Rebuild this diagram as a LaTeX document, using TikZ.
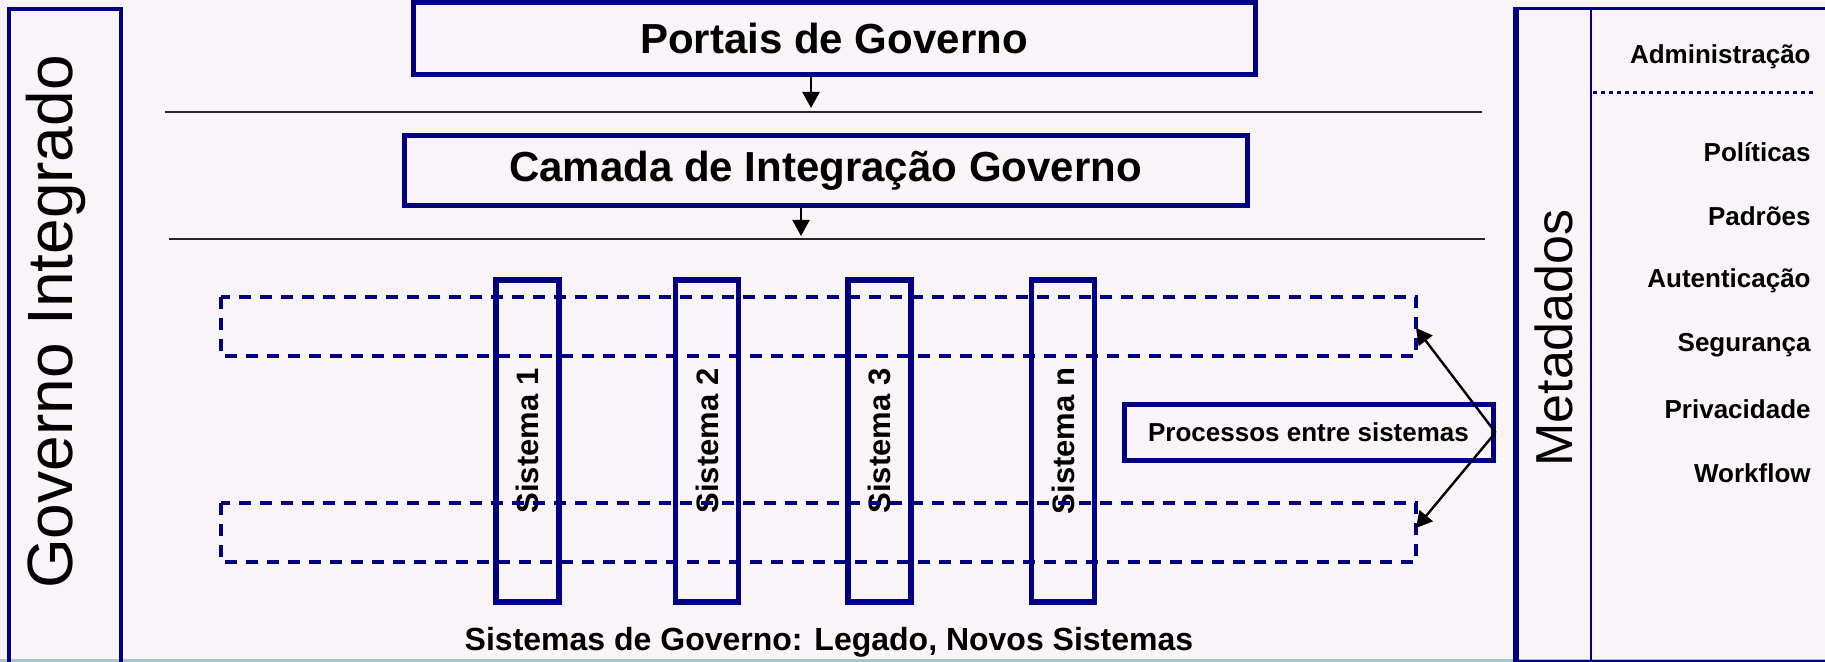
\documentclass[tikz,border=0pt]{standalone}
\usepackage{fontspec}
\setmainfont{Liberation Sans}
\usetikzlibrary{arrows.meta}
\definecolor{navy}{RGB}{0,0,128}
\definecolor{bgc}{RGB}{248,244,248}
\definecolor{tealstrip}{RGB}{160,200,205}
\begin{document}
\begin{tikzpicture}[x=0.5pt,y=-0.5pt,
  bigbox/.style={draw=navy,line width=2.5pt,inner sep=0pt,font=\fontsize{21}{25}\selectfont\bfseries},
  sysbox/.style={draw=navy,line width=2.75pt,inner sep=0pt,minimum width=31.5pt,minimum height=161pt},
  systext/.style={rotate=90,font=\fontsize{15.5}{18}\selectfont\bfseries,inner sep=0pt},
  dashrect/.style={draw=navy,line width=1.75pt,dash pattern=on 6pt off 4.5pt},
  sepline/.style={draw=black!85,line width=1pt},
  arr/.style={draw=black,line width=1.2pt,-{Triangle[length=8pt,width=8.5pt]}},
  meta/.style={anchor=east,inner sep=0pt,font=\fontsize{13}{15}\selectfont\bfseries}]
\useasboundingbox[fill=bgc] (0,0) rectangle (1825,662);
\fill[tealstrip] (0,659) rectangle (1825,662);
\begin{scope}
\clip (0,0) rectangle (1825,662);
% left box
\node[draw=navy,line width=2pt,minimum width=56pt,minimum height=331pt,inner sep=0pt] (left) at (65,340) {};
% right box
\node[draw=navy,line width=1.5pt,minimum width=157pt,minimum height=326pt,inner sep=0pt] (right) at (1674,335) {};
\draw[navy,line width=2.75pt] (right.north west) -- (right.south west);
\coordinate (divtop) at (1591,9);
\coordinate (divbot) at (1591,671);
\draw[navy,line width=1pt] (divtop) -- (divbot);
\end{scope}
\node[rotate=90,font=\fontsize{32}{38}\selectfont,inner sep=0pt] (gi) at (56,322) {Governo Integrado};
\node[rotate=90,font=\fontsize{26}{31}\selectfont,inner sep=0pt] (meta) at (1554,338) {Metadados};
\node[meta] (adm) at (1811,57) {Administração};
\coordinate (dotl) at (1593,93);
\coordinate (dotr) at (1813,93);
\draw[navy,line width=1.5pt,dash pattern=on 2pt off 2pt] (dotl) -- (dotr);
\node[meta] (pol) at (1811,152) {Políticas};
\node[meta] (pad) at (1811,216) {Padrões};
\node[meta] (aut) at (1811,281) {Autenticação};
\node[meta] (seg) at (1811,345) {Segurança};
\node[meta] (pri) at (1811,409) {Privacidade};
\node[meta] (wf) at (1811,473) {Workflow};
% top boxes
\node[bigbox,minimum width=421pt,minimum height=36pt] (portais) at (834,38.5) {Portais de Governo};
\node[bigbox,minimum width=421.5pt,minimum height=35pt] (camada) at (825.5,171) {Camada de Integração Governo};
\coordinate (l1a) at (165,112);
\coordinate (l1b) at (1482,112);
\coordinate (l2a) at (169,239);
\coordinate (l2b) at (1485,239);
\draw[sepline] (l1a) -- (l1b);
\draw[sepline] (l2a) -- (l2b);
\coordinate (t1) at (811,108);
\coordinate (t2) at (801,236);
\draw[arr] (portais.south -| t1) -- (t1);
\draw[arr] (camada.south -| t2) -- (t2);
% systems
\node[sysbox] (s1) at (527.5,441) {};
\node[sysbox] (s2) at (707,441) {};
\node[sysbox] (s3) at (879.5,441) {};
\node[sysbox] (sn) at (1063,441) {};
\node[systext] at (s1) {Sistema 1};
\node[systext] at (s2) {Sistema 2};
\node[systext] at (s3) {Sistema 3};
\node[systext] at (sn) {Sistema n};
% dashed rectangles
\coordinate (d1a) at (221,297);
\coordinate (d1b) at (1416,356);
\coordinate (d2a) at (221,503);
\coordinate (d2b) at (1416,562);
\draw[dashrect] (d1a) rectangle (d1b);
\draw[dashrect] (d2a) rectangle (d2b);
\coordinate (p1) at (1416,328);
\coordinate (p2) at (1416,528);
% processos
\node[draw=navy,line width=2.5pt,minimum width=184.5pt,minimum height=27.5pt,inner sep=0pt,font=\fontsize{13}{15}\selectfont\bfseries] (proc) at (1308.5,432.5) {Processos entre sistemas};
\draw[arr] (proc.east) -- (p1);
\draw[arr] (proc.east) -- (p2);
\node[font=\fontsize{16}{19}\selectfont\bfseries,inner sep=0pt] (bottom) at (829,642) {Sistemas de Governo: Legado, Novos Sistemas};
\end{tikzpicture}
\end{document}
